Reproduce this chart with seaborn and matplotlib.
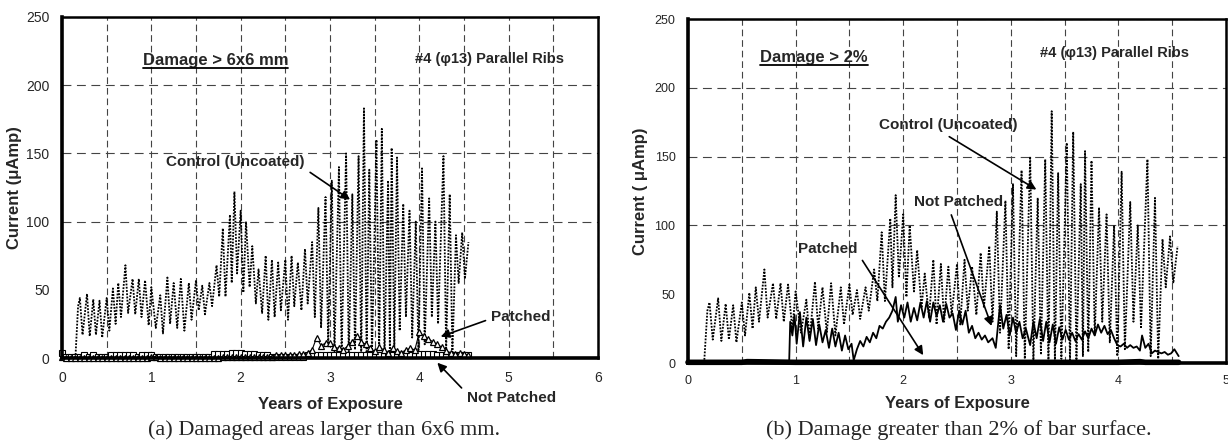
import pandas as pd
import matplotlib.pyplot as plt
import seaborn as sns
from matplotlib.lines import Line2D

# ---- data (years, current in uA) ----
ctrl_t = [0.15, 0.18, 0.20, 0.23, 0.28, 0.31, 0.35, 0.38, 0.42, 0.45,
          0.50, 0.53, 0.57, 0.60, 0.63, 0.66, 0.71, 0.74, 0.79, 0.82,
          0.86, 0.89, 0.93, 0.97, 1.00, 1.05, 1.10, 1.13, 1.18, 1.21,
          1.25, 1.29, 1.33, 1.37, 1.42, 1.45, 1.50, 1.53, 1.57, 1.60,
          1.65, 1.68, 1.73, 1.76, 1.80, 1.83, 1.88, 1.90, 1.93, 1.96,
          2.00, 2.03, 2.06, 2.10, 2.13, 2.17, 2.20, 2.24, 2.28, 2.31,
          2.35, 2.38, 2.42, 2.45, 2.50, 2.53, 2.57, 2.60, 2.64, 2.68,
          2.72, 2.75, 2.80, 2.83, 2.87, 2.90, 2.95, 2.98, 3.02, 3.05,
          3.10, 3.13, 3.18, 3.21, 3.25, 3.28, 3.32, 3.35, 3.38, 3.41,
          3.44, 3.47, 3.52, 3.55, 3.58, 3.61, 3.65, 3.67, 3.69, 3.72,
          3.75, 3.78, 3.82, 3.85, 3.89, 3.92, 3.96, 3.99, 4.03, 4.06,
          4.11, 4.14, 4.18, 4.21, 4.27, 4.30, 4.34, 4.37, 4.41, 4.44,
          4.48, 4.51, 4.55]
ctrl_v = [0, 38, 44, 17, 47, 16, 43, 17, 42, 15,
          44, 20, 51, 25, 55, 30, 68, 33, 58, 32,
          58, 30, 57, 24, 52, 22, 46, 18, 59, 25,
          55, 22, 58, 20, 55, 28, 57, 35, 53, 32,
          55, 38, 68, 45, 95, 45, 105, 55, 122, 62,
          108, 48, 100, 52, 82, 40, 65, 33, 75, 28,
          72, 30, 70, 35, 72, 28, 75, 38, 70, 35,
          80, 40, 85, 30, 110, 22, 118, 10, 130, 5,
          140, 3, 150, 2, 120, 6, 148, 0, 183, 0,
          138, 3, 160, 0, 168, 2, 130, 5, 154, 8,
          147, 20, 113, 30, 108, 15, 100, 5, 139, 10,
          117, 30, 100, 25, 148, 5, 120, 3, 90, 55,
          92, 58, 85]

# left panel (6x6 mm damage): weekly-ish readings
t_left = [0.00, 0.05, 0.10, 0.15, 0.20, 0.25, 0.30, 0.35, 0.40, 0.45,
          0.50, 0.55, 0.60, 0.65, 0.70, 0.75, 0.80, 0.85, 0.90, 0.95,
          1.00, 1.05, 1.10, 1.15, 1.20, 1.25, 1.30, 1.35, 1.40, 1.45,
          1.50, 1.55, 1.60, 1.65, 1.70, 1.75, 1.80, 1.85, 1.90, 1.95,
          2.00, 2.05, 2.10, 2.15, 2.20, 2.25, 2.30, 2.35, 2.40, 2.45,
          2.50, 2.55, 2.60, 2.65, 2.70, 2.75, 2.80, 2.85, 2.90, 2.95,
          3.00, 3.05, 3.10, 3.15, 3.20, 3.25, 3.30, 3.35, 3.40, 3.45,
          3.50, 3.55, 3.60, 3.65, 3.70, 3.75, 3.80, 3.85, 3.90, 3.95,
          4.00, 4.05, 4.10, 4.15, 4.20, 4.25, 4.30, 4.35, 4.40, 4.45,
          4.50, 4.55]
notpatched_left = [4, 1, 1, 1, 1, 2, 1, 2, 1, 1,
                   1, 2, 2, 2, 2, 2, 2, 1, 2, 2,
                   2, 1, 1, 1, 1, 1, 1, 1, 1, 1,
                   1, 1, 1, 1, 3, 3, 3, 3, 4, 4,
                   4, 3, 3, 3, 2, 2, 2, 1, 1, 1,
                   1, 1, 1, 1, 1, 2, 2, 2, 2, 2,
                   2, 2, 2, 2, 2, 2, 2, 2, 2, 2,
                   2, 2, 2, 2, 2, 2, 2, 2, 2, 2,
                   3, 3, 3, 3, 2, 2, 2, 2, 2, 2,
                   2, 2]
patched_left = [1, 0, 0, 0, 0, 0, 0, 0, 0, 0,
                0, 0, 0, 0, 0, 0, 0, 0, 0, 0,
                1, 1, 0, 0, 0, 0, 0, 0, 0, 0,
                0, 0, 0, 0, 0, 0, 1, 1, 1, 1,
                1, 1, 1, 1, 1, 1, 1, 1, 2, 2,
                2, 2, 2, 3, 3, 4, 6, 15, 9, 11,
                11, 8, 7, 6, 9, 12, 16, 12, 10, 7,
                5, 8, 6, 4, 7, 5, 4, 6, 7, 6,
                19, 16, 14, 12, 10, 8, 5, 4, 3, 4,
                3, 2]

# right panel (2% damage)
np_t = [0.94, 0.95, 0.97, 0.99, 1.01, 1.04, 1.07, 1.10, 1.13, 1.16,
        1.19, 1.22, 1.25, 1.28, 1.31, 1.34, 1.37, 1.40, 1.43, 1.46,
        1.49, 1.52, 1.54, 1.57, 1.60, 1.63, 1.66, 1.69, 1.72, 1.75,
        1.78, 1.81, 1.84, 1.87, 1.90, 1.93, 1.95, 1.98, 2.01, 2.04,
        2.07, 2.10, 2.13, 2.16, 2.19, 2.22, 2.25, 2.28, 2.31, 2.34,
        2.37, 2.40, 2.43, 2.46, 2.49, 2.52, 2.55, 2.58, 2.61, 2.64,
        2.67, 2.70, 2.73, 2.76, 2.79, 2.83, 2.86, 2.90, 2.93, 2.96,
        2.99, 3.02, 3.05, 3.08, 3.11, 3.14, 3.18, 3.21, 3.24, 3.27,
        3.30, 3.33, 3.36, 3.39, 3.42, 3.45, 3.48, 3.51, 3.54, 3.57,
        3.60, 3.63, 3.66, 3.69, 3.72, 3.75, 3.78, 3.81, 3.84, 3.87,
        3.90, 3.93, 3.96, 3.99, 4.02, 4.05, 4.08, 4.11, 4.14, 4.17,
        4.20, 4.22, 4.25, 4.28, 4.31, 4.34, 4.37, 4.40, 4.43, 4.46,
        4.49, 4.52, 4.56]
np_v = [0, 30, 20, 35, 14, 37, 12, 33, 16, 32,
        13, 28, 15, 24, 11, 25, 12, 22, 9, 20,
        10, 14, 2, 10, 16, 12, 19, 15, 22, 18,
        27, 25, 30, 33, 38, 48, 30, 42, 33, 44,
        30, 40, 31, 44, 33, 45, 30, 44, 34, 42,
        30, 43, 33, 36, 24, 38, 28, 38, 22, 27,
        18, 22, 17, 20, 15, 18, 11, 42, 25, 35,
        20, 33, 22, 30, 18, 25, 13, 30, 18, 32,
        16, 30, 15, 28, 14, 26, 17, 24, 17, 22,
        16, 21, 17, 23, 18, 25, 20, 28, 22, 27,
        21, 24, 18, 13, 12, 14, 11, 13, 11, 12,
        9, 20, 11, 14, 7, 9, 8, 7, 8, 6,
        7, 10, 5]
pt_t = [0.00, 0.50, 0.55, 1.00, 1.50, 2.00, 2.50, 3.00, 3.50, 4.00, 4.20,
        4.25, 4.56]
pt_v = [0.5, 0.5, 1, 0.5, 0.5, 0.5, 0.5, 0.5, 0.5, 0.5, 1,
        0.5, 0.5]

df_ctrl = pd.DataFrame({'t': ctrl_t, 'current': ctrl_v})
df_left = pd.DataFrame({'t': t_left, 'np': notpatched_left, 'p': patched_left})
df_np = pd.DataFrame({'t': np_t, 'current': np_v})
df_pt = pd.DataFrame({'t': pt_t, 'current': pt_v})

# ---- style ----
sns.set_style("white")
plt.rcParams['font.family'] = ['Liberation Sans', 'DejaVu Sans']

fig = plt.figure(figsize=(12.28, 4.45), dpi=100)
ax1 = fig.add_axes([62 / 1228, 87 / 445, 536 / 1228, 341 / 445])
ax2 = fig.add_axes([688 / 1228, 82 / 445, 538 / 1228, 344 / 445])

dotted = (0, (1.0, 0.8))


def style_axes(ax, xmax, tick_fs, ylabel, xlab_y):
    ax.set_xlim(0, xmax)
    ax.set_ylim(0, 250)
    ax.set_xticks(range(0, xmax + 1))
    ax.set_xticks([i + 0.5 for i in range(xmax)], minor=True)
    ax.set_yticks(range(0, 251, 50))
    ax.set_axisbelow(True)
    ax.grid(axis='x', which='both', color='#444444', lw=0.8, linestyle=(0, (6, 3.5)))
    ax.grid(axis='y', which='major', color='#444444', lw=0.8, linestyle=(0, (8, 5)))
    for ln in ax.get_ygridlines():
        if ln.get_ydata()[0] in (0, 250):
            ln.set_visible(False)
    ax.tick_params(axis='both', which='both', direction='inout', length=6,
                   width=1, labelsize=tick_fs, color='black', pad=6)
    ax.tick_params(axis='x', which='minor', length=5)
    ax.spines['left'].set_linewidth(2.6)
    ax.spines['bottom'].set_linewidth(2.6)
    ax.spines['top'].set_linewidth(1.8)
    ax.spines['right'].set_linewidth(1.8)
    for s in ax.spines.values():
        s.set_color('black')
    ax.set_xlabel('Years of Exposure', fontsize=12, fontweight='bold')
    ax.set_ylabel(ylabel, fontsize=12, fontweight='bold')
    ax.xaxis.set_label_coords(0.5, xlab_y)
    ax.yaxis.set_label_coords(-0.075, 0.5)


# ---- (a) Damage > 6x6 mm ----
sns.lineplot(data=df_ctrl, x='t', y='current', ax=ax1, color='black',
             linestyle=dotted, lw=1.3, estimator=None, sort=False)
sns.lineplot(data=df_left, x='t', y='np', ax=ax1, color='black', lw=0.8,
             marker='s', markersize=4, markerfacecolor='white',
             markeredgecolor='black', markeredgewidth=0.8,
             estimator=None, sort=False, clip_on=False)
sns.lineplot(data=df_left, x='t', y='p', ax=ax1, color='black', lw=0.8,
             marker='^', markersize=5, markerfacecolor='white',
             markeredgecolor='black', markeredgewidth=0.9,
             estimator=None, sort=False, clip_on=False)
style_axes(ax1, 6, 10, 'Current (μAmp)', -0.115)

t_a = ax1.text(1.72, 218, 'Damage > 6x6 mm', fontsize=12, fontweight='bold',
               ha='center', va='center')
ax1.text(4.78, 219, '#4 (φ13) Parallel Ribs', fontsize=10.5, fontweight='bold',
         ha='center', va='center')
arw = dict(arrowstyle='-|>', color='black', lw=1.2, mutation_scale=13)
ax1.annotate('Control (Uncoated)', xy=(3.25, 115), xytext=(1.94, 144),
             fontsize=11, fontweight='bold', ha='center', va='center',
             arrowprops=dict(arw, relpos=(1.0, 0.0)))
ax1.annotate('Patched', xy=(4.21, 15), xytext=(5.14, 30),
             fontsize=11, fontweight='bold', ha='center', va='center',
             arrowprops=dict(arw, relpos=(0.0, 0.4)))
ax1.annotate('Not Patched', xy=(4.18, -2), xytext=(5.03, -29),
             fontsize=11, fontweight='bold', ha='center', va='center',
             annotation_clip=False,
             arrowprops=dict(arw, relpos=(0.0, 0.8)))

# ---- (b) Damage > 2% ----
sns.lineplot(data=df_ctrl, x='t', y='current', ax=ax2, color='black',
             linestyle=dotted, lw=1.3, estimator=None, sort=False)
sns.lineplot(data=df_np, x='t', y='current', ax=ax2, color='black', lw=1.3,
             estimator=None, sort=False)
sns.lineplot(data=df_pt, x='t', y='current', ax=ax2, color='black', lw=4.0,
             estimator=None, sort=False, clip_on=False)
style_axes(ax2, 5, 9, 'Current ( μAmp)', -0.097)

t_b = ax2.text(1.17, 222, 'Damage > 2%', fontsize=12, fontweight='bold',
               ha='center', va='center')
ax2.text(3.96, 225, '#4 (φ13) Parallel Ribs', fontsize=10.5, fontweight='bold',
         ha='center', va='center')
ax2.annotate('Control (Uncoated)', xy=(3.26, 125), xytext=(2.42, 173),
             fontsize=11, fontweight='bold', ha='center', va='center',
             arrowprops=dict(arw, relpos=(0.45, 0.0)))
ax2.annotate('Not Patched', xy=(2.83, 25), xytext=(2.51, 117),
             fontsize=11, fontweight='bold', ha='center', va='center',
             arrowprops=dict(arw, relpos=(0.4, 0.0)))
ax2.annotate('Patched', xy=(2.2, 4), xytext=(1.30, 83),
             fontsize=11, fontweight='bold', ha='center', va='center',
             arrowprops=dict(arw, relpos=(1.0, 0.2)))

# captions
fig.text(324 / 1228, 15 / 445, '(a) Damaged areas larger than 6x6 mm.',
         family=['Liberation Serif', 'DejaVu Serif'], fontsize=16,
         ha='center', va='center')
fig.text(959 / 1228, 15 / 445, '(b) Damage greater than 2% of bar surface.',
         family=['Liberation Serif', 'DejaVu Serif'], fontsize=16,
         ha='center', va='center')

# underline the damage titles
fig.canvas.draw()
inv = fig.transFigure.inverted()
for t in (t_a, t_b):
    bb = t.get_window_extent()
    (x0, y0), (x1, _) = inv.transform([(bb.x0, bb.y0), (bb.x1, bb.y1)])
    fig.add_artist(Line2D([x0, x1], [y0, y0], transform=fig.transFigure,
                          color='black', lw=1.3))

fig.savefig('out.png', dpi=100)
